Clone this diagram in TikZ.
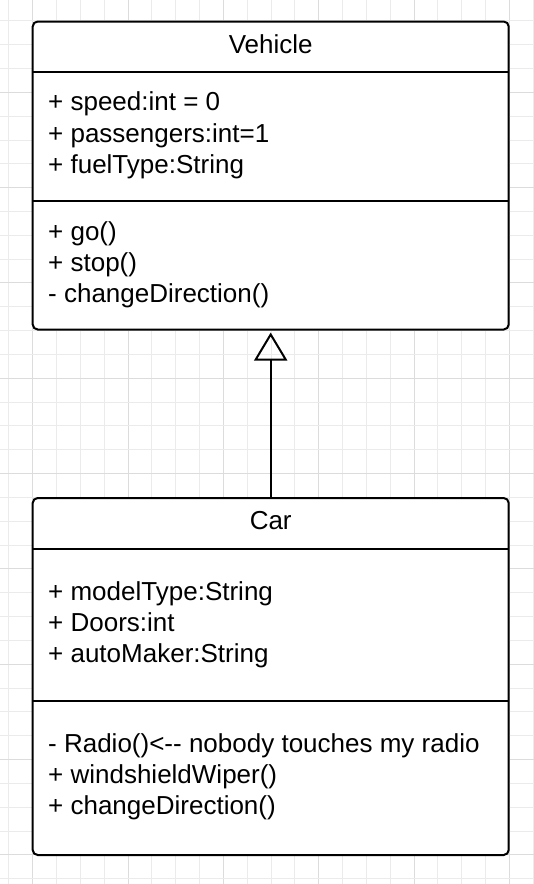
\documentclass[tikz,border=0pt]{standalone}
\usepackage{fontspec}
\setmainfont{Liberation Sans}
\usetikzlibrary{arrows.meta}
\definecolor{gridminor}{HTML}{EBEBEB}
\definecolor{gridmajor}{HTML}{DCDCDC}
\begin{document}
\begin{tikzpicture}[x=1pt,y=-1pt,
  classbox/.style={draw, line width=2pt, rounded corners=5pt, fill=white,
    inner sep=0pt, outer sep=0pt, minimum width=476pt},
  member/.style={anchor=base west, inner sep=0pt, font=\fontsize{26}{30}\selectfont},
  classtitle/.style={anchor=base, inner sep=0pt, font=\fontsize{26}{30}\selectfont},
  sepline/.style={line width=2pt},
  gridline/.style={line width=1pt, draw=gridminor},
  gridmaj/.style={line width=1pt, draw=gridmajor}]
\useasboundingbox[fill=white] (0,0) rectangle (534,884);
% background grid
\foreach \k in {0,...,22} {
  \pgfmathsetmacro\xx{8.9+\k*23.83}
  \pgfmathparse{int(mod(\k+3,4))}
  \ifnum\pgfmathresult=0
    \draw[gridmaj] (\xx,0) -- (\xx,884);
  \else
    \draw[gridline] (\xx,0) -- (\xx,884);
  \fi
}
\foreach \k in {0,...,36} {
  \pgfmathsetmacro\yy{20.85+\k*23.83}
  \pgfmathparse{int(mod(\k+1,4))}
  \ifnum\pgfmathresult=0
    \draw[gridmaj] (0,\yy) -- (534,\yy);
  \else
    \draw[gridline] (0,\yy) -- (534,\yy);
  \fi
}
% Vehicle class
\node[classbox, minimum height=308pt] (vehicle) at (270.7,175.5) {};
\draw[sepline] (vehicle.west |- 0,72) -- (vehicle.east |- 0,72);
\draw[sepline] (vehicle.west |- 0,201.3) -- (vehicle.east |- 0,201.3);
\node[classtitle] (vtitle) at (270.7,53) {Vehicle};
\node[member] (va1) at (48,110.7) {+ speed:int = 0};
\node[member] (va2) at (48,142) {+ passengers:int=1};
\node[member] (va3) at (48,173.3) {+ fuelType:String};
\node[member] (vm1) at (48,240) {+ go()};
\node[member] (vm2) at (48,271.4) {+ stop()};
\node[member] (vm3) at (48,302.7) {- changeDirection()};
% Car class
\node[classbox, minimum height=357pt] (car) at (270.7,676.5) {};
\draw[sepline] (car.west |- 0,549) -- (car.east |- 0,549);
\draw[sepline] (car.west |- 0,701) -- (car.east |- 0,701);
\node[classtitle] (ctitle) at (270.7,529.3) {Car};
\node[member] (ca1) at (48,600) {+ modelType:String};
\node[member] (ca2) at (48,631) {+ Doors:int};
\node[member] (ca3) at (48,662) {+ autoMaker:String};
\node[member] (cm1) at (48,752.3) {- Radio()<-\kern0pt- nobody touches my radio};
\node[member] (cm2) at (48,783.3) {+ windshieldWiper()};
\node[member] (cm3) at (48,814.3) {+ changeDirection()};
% generalization
\draw[line width=2pt, -{Triangle[open, length=28pt, width=33pt, line width=2pt]}, shorten >=3pt]
  (car.north) -- (vehicle.south);
\end{tikzpicture}
\end{document}
